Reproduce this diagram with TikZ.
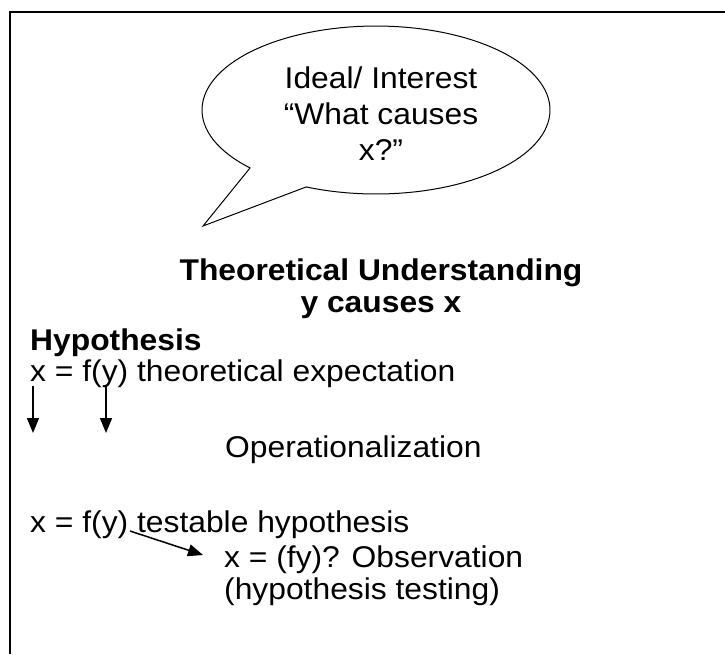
\documentclass[tikz,border=0pt]{standalone}
\usepackage{fontspec}
\setmainfont{Liberation Sans}[FakeStretch=1.06]
\usetikzlibrary{arrows.meta}
\begin{document}
\begin{tikzpicture}[x=1pt,y=-1pt,
  txt/.style={inner sep=0pt, anchor=base west, font=\fontsize{30}{35}\selectfont},
  ctxt/.style={txt, anchor=base},
  bold/.style={font=\fontsize{30}{35}\selectfont\bfseries},
  conn/.style={line width=1.5pt, -{Triangle[length=15pt,width=12pt]}}]
\useasboundingbox (0,0) rectangle (725,654);
% open frame: top and left edges only
\draw[line width=2.2pt] (10,654) -- (10,12) -- (725,12);
% speech bubble: ellipse outline running into the tail
\draw[line width=1pt, fill=white]
  (250,168) -- (203,226) -- (306,187)
  -- plot[domain=113.7:-223.6, samples=120] ({376+174*cos(\x)}, {110+84*sin(\x)})
  -- cycle;
\node[ctxt] (bub1) at (381,88)  {Ideal/ Interest};
\node[ctxt] (bub2) at (381,124) {``What causes};
\node[ctxt] (bub3) at (381,160) {x?''};
% headings
\node[ctxt, bold] (theory) at (381,280) {Theoretical Understanding};
\node[ctxt, bold] (cause)  at (381,312) {y causes x};
\node[txt, bold] (hyp) at (30,350) {Hypothesis};
\node[txt] (expect) at (30,381) {x = f(y) theoretical expectation};
% operationalization arrows below x and y
\coordinate (ax) at (33,386);
\coordinate (ay) at (106,386);
\coordinate (bx) at (33,433);
\coordinate (by) at (106,433);
\draw[conn] (ax) -- (bx);
\draw[conn] (ay) -- (by);
\node[txt] (oper) at (225,457) {Operationalization};
\node[txt] (test) at (30,532) {x = f(y) testable hypothesis};
\node[txt] (obs) at (224,567) {x = (fy)? Observation};
\node[txt] (htest) at (224,599) {(hypothesis testing)};
\coordinate (tstart) at (130,531);
\coordinate (tend) at (203,555);
\draw[conn] (tstart) -- (tend);
\end{tikzpicture}
\end{document}
